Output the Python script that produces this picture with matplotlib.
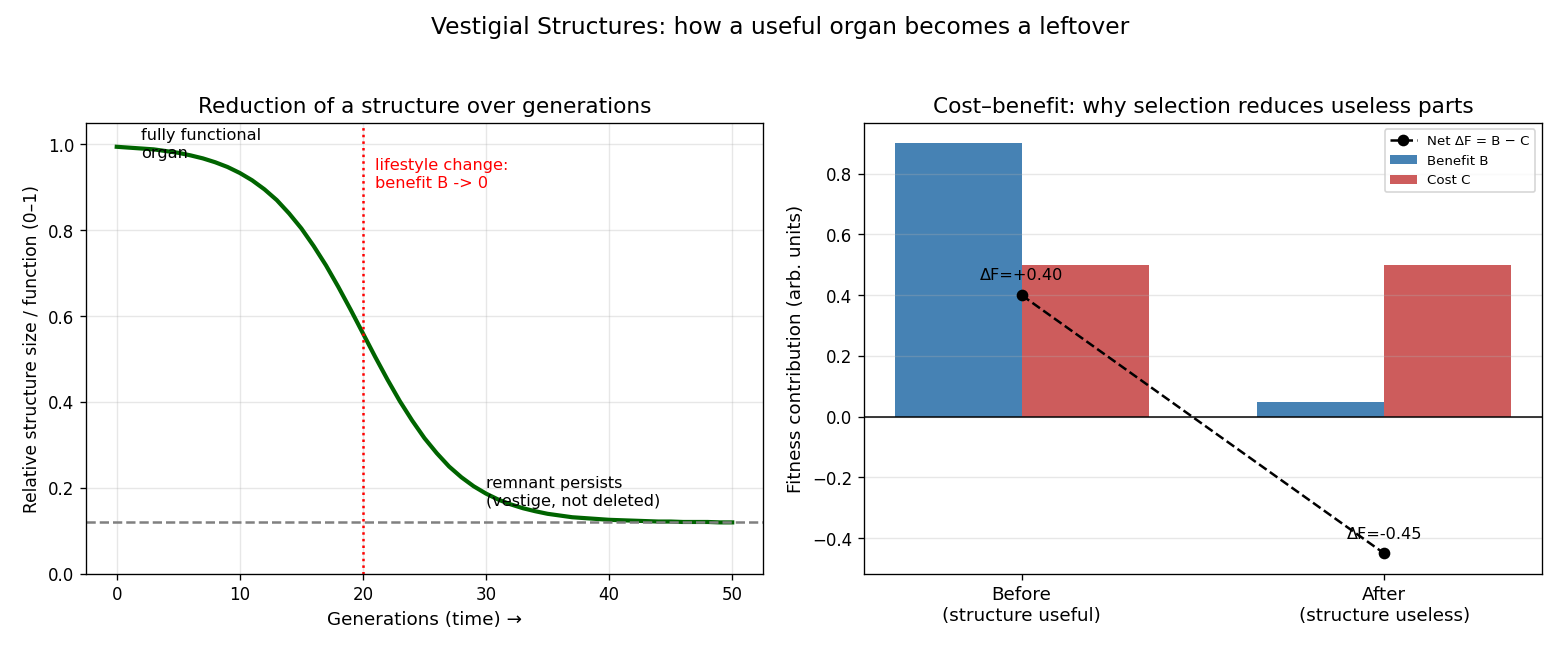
import matplotlib.pyplot as plt

# left panel: structure size, one value per generation
generations = list(range(51))
structure_size = [
    0.994, 0.992, 0.990, 0.988, 0.984, 0.980, 0.974, 0.967, 0.958, 0.947,
    0.933, 0.916, 0.895, 0.870, 0.839, 0.804, 0.763, 0.718, 0.668, 0.615,
    0.560, 0.505, 0.452, 0.402, 0.357, 0.316, 0.281, 0.250, 0.225, 0.204,
    0.187, 0.173, 0.162, 0.153, 0.146, 0.140, 0.136, 0.132, 0.130, 0.128,
    0.126, 0.125, 0.124, 0.123, 0.122, 0.122, 0.121, 0.121, 0.121, 0.120,
    0.120,
]
remnant_level = 0.12
change_gen = 20

# right panel: cost-benefit
stages = ["Before\n(structure useful)", "After\n(structure useless)"]
benefit = [0.90, 0.05]
cost = [0.50, 0.50]
net = [b - c for b, c in zip(benefit, cost)]

fig, (ax1, ax2) = plt.subplots(1, 2, figsize=(13, 5.42), dpi=120)
ax1.set_position([0.0551, 0.1169, 0.434, 0.6938])
ax2.set_position([0.5538, 0.1169, 0.4346, 0.6938])
fig.suptitle("Vestigial Structures: how a useful organ becomes a leftover", fontsize=14, y=0.975)

# --- left
ax1.plot(generations, structure_size, color="darkgreen", lw=2.5)
ax1.axhline(remnant_level, color="gray", ls="--", lw=1.5)
ax1.axvline(change_gen, color="red", ls=":", lw=1.5)
ax1.text(2, 0.97, "fully functional\norgan", fontsize=9.7)
ax1.text(21, 0.90, "lifestyle change:\nbenefit B -> 0", color="red", fontsize=9.7)
ax1.text(30, 0.16, "remnant persists\n(vestige, not deleted)", fontsize=9.7)
ax1.set_ylim(0, 1.05)
ax1.set_xlabel("Generations (time) \u2192", fontsize=11)
ax1.set_ylabel("Relative structure size / function (0\u20131)", fontsize=10.3)
ax1.set_title("Reduction of a structure over generations", fontsize=13)
ax1.grid(alpha=0.3)

# --- right
x = list(range(len(stages)))
w = 0.35
ax2.bar([i - w / 2 for i in x], benefit, w, color="steelblue", label="Benefit B")
ax2.bar([i + w / 2 for i in x], cost, w, color="indianred", label="Cost C")
ax2.plot(x, net, "k--o", label="Net \u0394F = B \u2212 C")
for i, v in zip(x, net):
    ax2.text(i, v + 0.05, f"\u0394F={v:+.2f}" if v > 0 else f"\u0394F={v:.2f}",
             ha="center", fontsize=9.7)
ax2.axhline(0, color="black", lw=0.9)
ax2.set_xticks(x)
ax2.set_xticklabels(stages, fontsize=11)
ax2.set_ylabel("Fitness contribution (arb. units)", fontsize=11)
ax2.set_title("Cost\u2013benefit: why selection reduces useless parts", fontsize=13)
ax2.grid(axis="y", alpha=0.3)
ax2.legend(loc="upper right", fontsize=8)

fig.savefig("out.png")
